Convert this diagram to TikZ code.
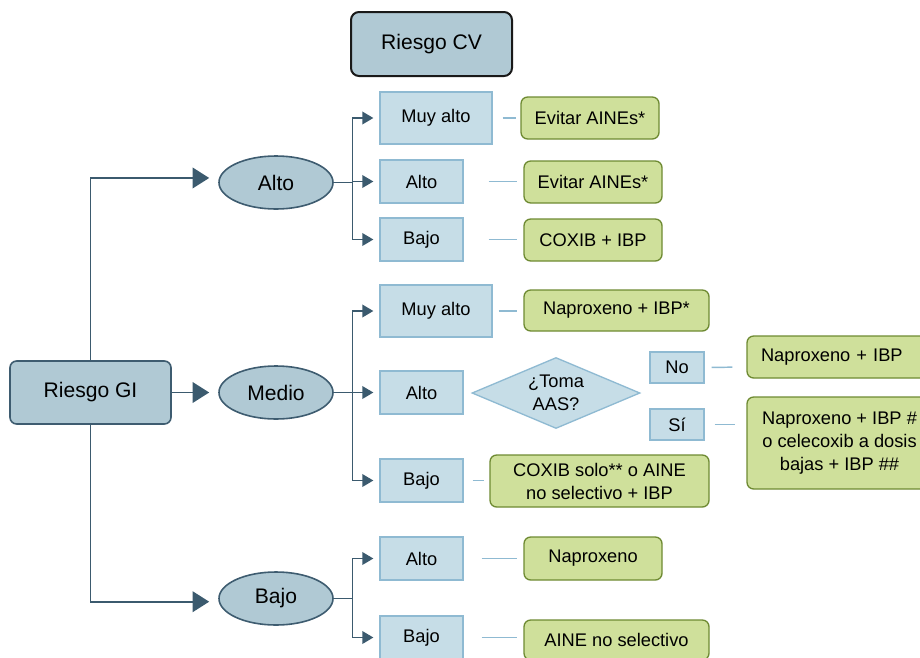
\documentclass[tikz,border=0pt]{standalone}
\usepackage{fontspec}
\setmainfont{Liberation Sans}
\usetikzlibrary{shapes.geometric,arrows.meta}
\definecolor{darkfill}{HTML}{B0C9D4}
\definecolor{ellborder}{HTML}{3E5C70}
\definecolor{arrowc}{HTML}{3B5A6E}
\definecolor{lightfill}{HTML}{C6DDE7}
\definecolor{lightborder}{HTML}{8FBAD2}
\definecolor{greenfill}{HTML}{CFE09B}
\definecolor{greenborder}{HTML}{6E8A32}
\begin{document}
\begin{tikzpicture}[x=0.75pt,y=-0.75pt,
  big/.style={font=\fontsize{15.8}{19}\selectfont},
  small/.style={font=\fontsize{13.7}{17.3}\selectfont},
  cvbox/.style={draw=black!90, line width=1.5pt, fill=darkfill, rounded corners=6pt, inner sep=0pt, big},
  gibox/.style={draw=ellborder, line width=1.2pt, fill=darkfill, rounded corners=5pt, inner sep=0pt, big},
  riskell/.style={ellipse, draw=ellborder, line width=1.2pt, fill=darkfill, inner sep=0pt, big},
  lvl/.style={draw=lightborder, line width=1pt, fill=lightfill, inner sep=0pt, small},
  rec/.style={draw=greenborder, line width=1pt, fill=greenfill, rounded corners=5pt, inner sep=0pt, small, align=center},
  ask/.style={diamond, aspect=2.37, draw=lightborder, line width=1pt, fill=lightfill, inner sep=0pt, small, align=center},
  bigarrow/.style={draw=arrowc, line width=1.4pt, -{Triangle[length=12.5pt,width=15.5pt]}, shorten >=6.75pt},
  trunk/.style={draw=arrowc, line width=1.1pt},
  brarrow/.style={draw=arrowc, line width=1.1pt, -{Triangle[length=8.25pt,width=9.5pt]}, shorten >=4.5pt},
  link/.style={draw=lightborder, line width=1.1pt},
]
\useasboundingbox (0,0) rectangle (920,657);
\clip (0,0) rectangle (920,657);

% main nodes
\node[cvbox, minimum width=120.75pt, minimum height=48pt] (cv) at (431.5,44) {Riesgo CV};
\node[gibox, minimum width=120.75pt, minimum height=47.25pt] (gi) at (90.5,392.5) {Riesgo GI};
\node[riskell, minimum width=85.5pt, minimum height=39.75pt] (ealto) at (276,182.5) {Alto};
\node[riskell, minimum width=85.5pt, minimum height=39.75pt] (emedio) at (276,392.5) {Medio};
\node[riskell, minimum width=85.5pt, minimum height=39.75pt] (ebajo) at (276,598.5) {Bajo};

% CV level boxes
\node[lvl, minimum width=84pt, minimum height=39pt] (b1) at (436,118) {Muy alto};
\node[lvl, minimum width=62.25pt, minimum height=32.25pt] (b2) at (421.5,181.5) {Alto};
\node[lvl, minimum width=62.25pt, minimum height=32.25pt] (b3) at (421.5,239.5) {Bajo};
\node[lvl, minimum width=84pt, minimum height=39pt] (b4) at (436,311) {Muy alto};
\node[lvl, minimum width=62.25pt, minimum height=32.25pt] (b5) at (421.5,392.5) {Alto};
\node[lvl, minimum width=62.25pt, minimum height=32.25pt] (b6) at (421.5,480.5) {Bajo};
\node[lvl, minimum width=62.25pt, minimum height=32.25pt] (b7) at (421.5,558.5) {Alto};
\node[lvl, minimum width=62.25pt, minimum height=32.25pt] (b8) at (421.5,637.5) {Bajo};

% recommendations
\node[rec, minimum width=103.5pt, minimum height=31.5pt] (g1) at (590,118) {Evitar AINEs*};
\node[rec, minimum width=103.5pt, minimum height=31.5pt] (g2) at (593,182) {Evitar AINEs*};
\node[rec, minimum width=103.5pt, minimum height=31.5pt] (g3) at (593,240) {COXIB + IBP};
\node[rec, minimum width=138.75pt, minimum height=30.75pt] (g4) at (616.5,310.5) {Naproxeno + IBP*};
\node[rec, minimum width=164.25pt, minimum height=39pt] (g5) at (599.5,481) {COXIB solo** o AINE\\no selectivo + IBP};
\node[rec, minimum width=103.5pt, minimum height=32.25pt] (g6) at (593,558.5) {Naproxeno};
\node[rec, minimum width=138.75pt, minimum height=30pt] (g7) at (616.5,640) {AINE no selectivo};

% aspirin decision
\node[ask, minimum width=126pt, minimum height=53.25pt] (aas) at (556,393) {¿Toma\\AAS?};
\node[lvl, minimum width=40.5pt, minimum height=23.25pt] (no) at (677,367.5) {No};
\node[lvl, minimum width=40.5pt, minimum height=23.25pt] (si) at (677,424.5) {Sí};
\node[rec, align=left, inner xsep=10.5pt, text width=117.75pt, minimum height=31.5pt] (gno) at (839.5,357) {Naproxeno + IBP};
\node[rec, minimum width=138.75pt, minimum height=69pt] (gsi) at (839.5,443) {Naproxeno + IBP \#\\o celecoxib a dosis\\bajas + IBP \#\#};

% GI arrows
\draw[bigarrow] (gi.north) |- ([yshift=3.4pt]ealto.west);
\draw[bigarrow] (gi.east) -- (emedio.west);
\draw[bigarrow] (gi.south) |- ([yshift=-2.4pt]ebajo.west);

% branches
\draw[trunk] (ealto.east) -- ++(18.5,0) coordinate (ja);
\draw[brarrow] (ja) |- (b1.west);
\draw[brarrow] (ja) |- (b2.west);
\draw[brarrow] (ja) |- (b3.west);

\draw[trunk] (emedio.east) -- ++(18.5,0) coordinate (jm);
\draw[brarrow] (jm) |- (b4.west);
\draw[brarrow] (jm) |- (b5.west);
\draw[brarrow] (jm) |- (b6.west);

\draw[trunk] (ebajo.east) -- ++(18.5,0) coordinate (jb);
\draw[brarrow] (jb) |- (b7.west);
\draw[brarrow] (jb) |- (b8.west);

% links
\draw[link, shorten <=7.5pt, shorten >=3pt] (b1.east) -- (b1.east -| g1.west);
\draw[link, shorten <=18.75pt, shorten >=4.5pt] (b2.east) -- (b2.east -| g2.west);
\draw[link, shorten <=18.75pt, shorten >=4.5pt] (b3.east) -- (b3.east -| g3.west);
\draw[link, shorten <=4.5pt, shorten >=4.5pt] (b4.east) -- (b4.east -| g4.west);
\draw[link, shorten <=6.75pt, shorten >=3.75pt] (b6.east) -- (b6.east -| g5.west);
\draw[link, shorten <=13.5pt, shorten >=4.5pt] (b7.east) -- (b7.east -| g6.west);
\draw[link, shorten <=13.5pt, shorten >=4.5pt] (b8.east) -- (b8.east -| g7.west);
\draw[link, shorten <=5.25pt, shorten >=10.5pt] (no.east) -- ([yshift=-7.5pt]gno.west);
\draw[link, shorten <=7.5pt, shorten >=8.25pt] (si.east) -- (si.east -| gsi.west);
\end{tikzpicture}
\end{document}
